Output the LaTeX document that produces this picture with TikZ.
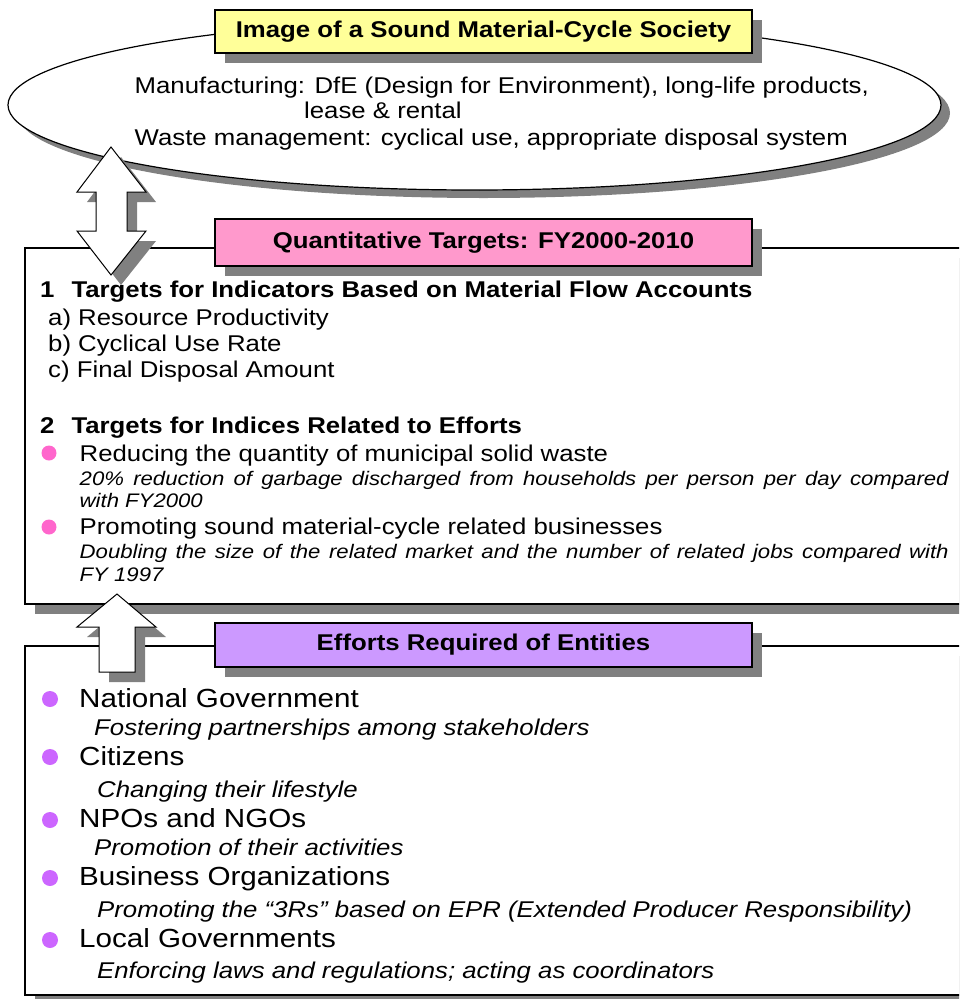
\documentclass[tikz,border=0pt]{standalone}
\usepackage{fontspec}
\setmainfont{Liberation Sans}[FakeStretch=1.13]
\usetikzlibrary{shadows}
\definecolor{shd}{HTML}{808080}
\definecolor{yel}{HTML}{FFFF99}
\definecolor{pnk}{HTML}{FF99CC}
\definecolor{prp}{HTML}{CC99FF}
\definecolor{pbul}{HTML}{FF66CC}
\definecolor{vbul}{HTML}{CC66FF}
\newcommand{\fA}{\fontsize{22.8}{26}\selectfont}
\newcommand{\fB}{\fontsize{26.2}{30}\selectfont}
\newcommand{\fC}{\fontsize{19.6}{23}\selectfont\itshape}
\begin{document}
\begin{tikzpicture}[x=1pt,y=-1pt,
  txt/.style={anchor=base west, inner sep=0pt, font=\fA},
  btxt/.style={txt, font=\fA\bfseries},
  big/.style={txt, font=\fB},
  itl/.style={txt, font=\fA\itshape},
  sit/.style={txt, font=\fC},
  hdr/.style={draw=black, line width=1.6pt, minimum width=537pt, inner sep=0pt,
    font=\fA\bfseries,
    drop shadow={shadow xshift=10pt, shadow yshift=-10pt, fill=shd, opacity=1}},
  frame/.style={draw=black, line width=1.6pt, fill=white},
  arr/.style={draw=black, line width=1pt, fill=white, line join=miter},
  shad/.style={fill=shd},
  pdot/.style={circle, fill=pbul, minimum size=15pt, inner sep=0pt},
  vdot/.style={circle, fill=vbul, minimum size=16pt, inner sep=0pt}]
\useasboundingbox (0,0) rectangle (959,999);
\clip (0,0) rectangle (959,999);

% ellipse
\fill[shad] (483.5,113) ellipse [x radius=466.5, y radius=85];
\draw[fill=white, line width=1.2pt] (474.5,105) ellipse [x radius=466.5, y radius=85];
\node[txt] (m1) at (134.5,93) {Manufacturing: DfE (Design for Environment), long-life products,};
\node[txt] (m2) at (304,118) {lease \& rental};
\node[txt] (m3) at (134.5,145) {Waste management: cyclical use, appropriate disposal system};
\node[hdr, fill=yel, minimum height=43pt] (title) at (483.5,31.5) {Image of a Sound Material-Cycle Society};

% box 1
\fill[shad] (35,258) rectangle (995,614);
\draw[frame] (25,248) rectangle (985,604);
\node[hdr, fill=pnk, minimum height=47pt] (qt) at (483.5,242.5) {Quantitative Targets: FY2000-2010};

% double arrow
\fill[shad] (121,157) -- (156,202) -- (137,202) -- (137,241) -- (156,241) -- (121,285) -- (87,241) -- (106,241) -- (106,202) -- (87,202) -- cycle;
\draw[arr] (111,147) -- (146,192) -- (127,192) -- (127,231) -- (146,231) -- (111,275) -- (77,231) -- (96,231) -- (96,192) -- (77,192) -- cycle;

\node[btxt] (t1) at (40,297) {1\hspace{17pt}Targets for Indicators Based on Material Flow Accounts};
\node[txt] (ta) at (48,325.5) {a) Resource Productivity};
\node[txt] (tb) at (48,351.5) {b) Cyclical Use Rate};
\node[txt] (tc) at (48,377.5) {c) Final Disposal Amount};
\node[btxt] (t2) at (40,433) {2\hspace{17pt}Targets for Indices Related to Efforts};
\node[pdot] (d1) at (49,453) {};
\node[txt] (r1) at (79.5,461) {Reducing the quantity of municipal solid waste};
\node[sit] (r1a) at (79.5,485) {\makebox[869pt][s]{20\% reduction of garbage discharged from households per person per day compared}};
\node[sit] (r1b) at (79.5,507) {with FY2000};
\node[pdot] (d2) at (49,527) {};
\node[txt] (r2) at (79.5,534) {Promoting sound material-cycle related businesses};
\node[sit] (r2a) at (79.5,558) {\makebox[869pt][s]{Doubling the size of the related market and the number of related jobs compared with}};
\node[sit] (r2b) at (79.5,581) {FY 1997};

% box 2
\fill[shad] (35,656) rectangle (995,1005);
\draw[frame] (25,646) rectangle (985,995);

% up arrow
\fill[shad] (127,604) -- (166,637) -- (145,637) -- (145,682) -- (109,682) -- (109,637) -- (87,637) -- cycle;
\draw[arr] (117,594) -- (156,627) -- (135,627) -- (135,672) -- (99,672) -- (99,627) -- (77,627) -- cycle;

\node[hdr, fill=prp, minimum height=44pt] (eff) at (483.5,645) {Efforts Required of Entities};

\node[vdot] (e1) at (50,699) {};
\node[big] (n1) at (79,707) {National Government};
\node[itl] (n1a) at (94,735) {Fostering partnerships among stakeholders};
\node[vdot] (e2) at (50,757) {};
\node[big] (n2) at (79,765) {Citizens};
\node[itl] (n2a) at (97,797) {Changing their lifestyle};
\node[vdot] (e3) at (50,820) {};
\node[big] (n3) at (79,827) {NPOs and NGOs};
\node[itl] (n3a) at (94,855) {Promotion of their activities};
\node[vdot] (e4) at (50,878) {};
\node[big] (n4) at (79,885) {Business Organizations};
\node[itl] (n4a) at (97,917) {Promoting the “3Rs” based on EPR (Extended Producer Responsibility)};
\node[vdot] (e5) at (50,940) {};
\node[big] (n5) at (79,947) {Local Governments};
\node[itl] (n5a) at (97,978) {Enforcing laws and regulations; acting as coordinators};
\end{tikzpicture}
\end{document}
